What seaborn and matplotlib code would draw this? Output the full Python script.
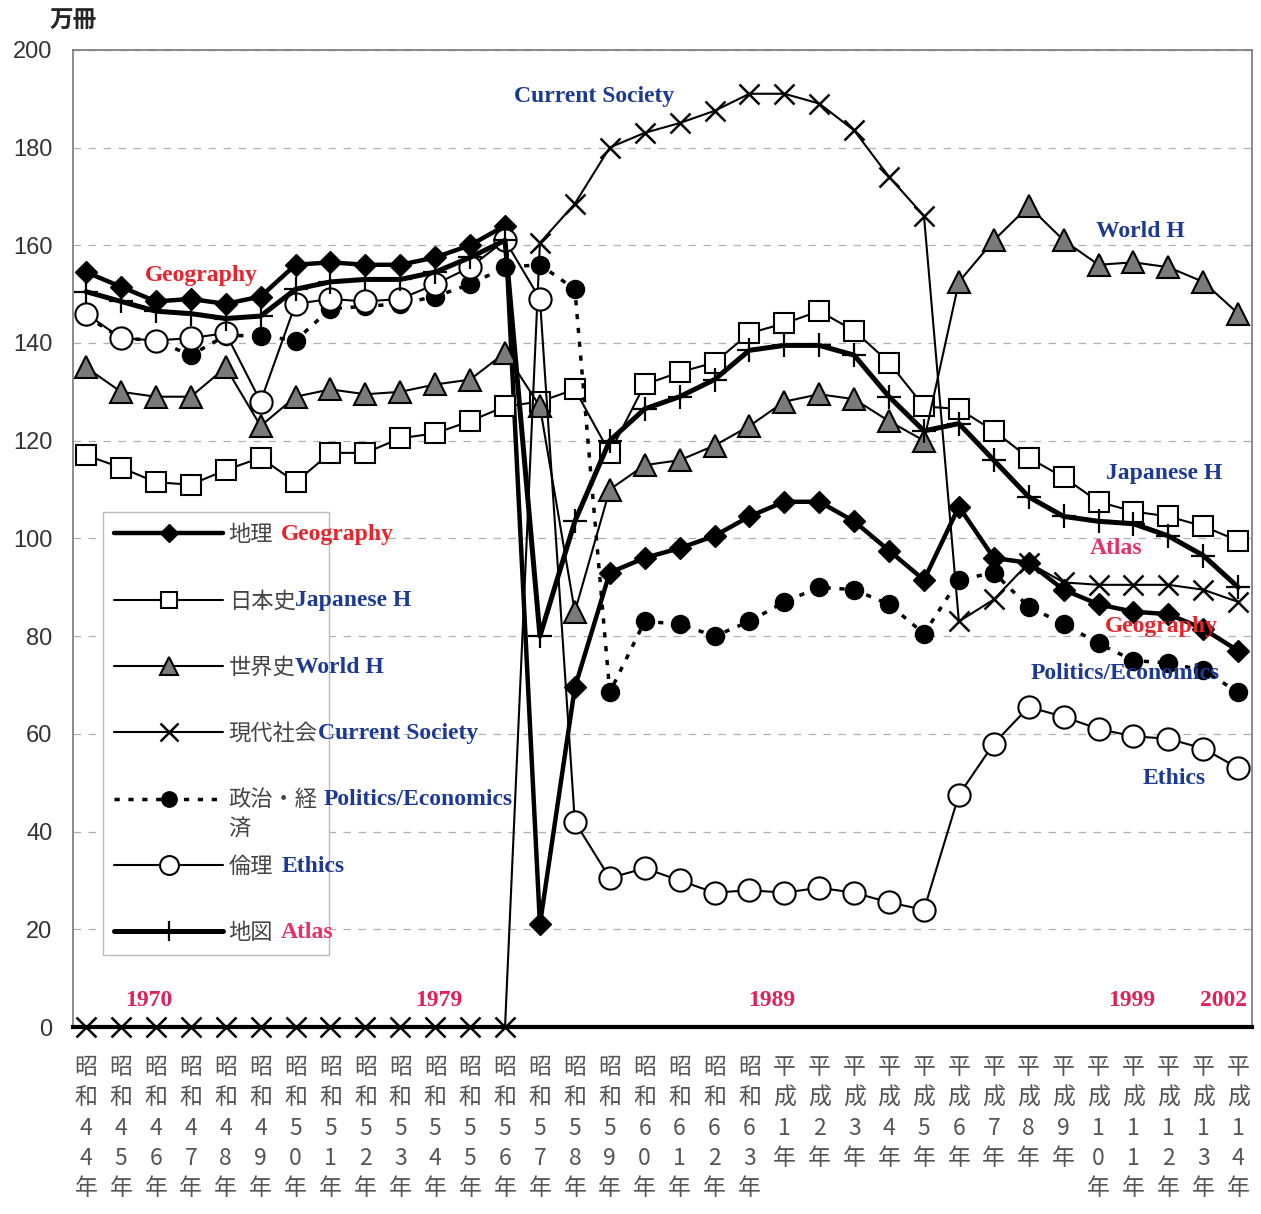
import numpy as np
import seaborn as sns
import matplotlib
matplotlib.use('Agg')
from matplotlib import pyplot as plt
from matplotlib.lines import Line2D
from matplotlib.font_manager import FontProperties

# categories: Showa 44 .. Heisei 14
eras = ['昭和'] * 20 + ['平成'] * 14
years = [44, 45, 46, 47, 48, 49, 50, 51, 52, 53, 54, 55, 56, 57, 58, 59, 60, 61, 62, 63,
         1, 2, 3, 4, 5, 6, 7, 8, 9, 10, 11, 12, 13, 14]

geography = [154.5, 151.5, 148.5, 149, 148, 149.5, 156, 156.5, 156, 156, 157.5, 160, 164,
             21, 69.5, 93, 96, 98, 100.5, 104.5, 107.5, 107.5, 103.5, 97.5, 91.5,
             106.5, 96, 95, 89.5, 86.5, 85, 84.5, 81.5, 77]
japanese = [117, 114.5, 111.5, 111, 114, 116.5, 111.5, 117.5, 117.5, 120.5, 121.5, 124, 127,
            128, 130.5, 117.5, 131.5, 134, 136, 142, 144, 146.5, 142.5, 136, 127,
            126.5, 122, 116.5, 112.5, 107.5, 105.5, 104.5, 102.5, 99.5]
world = [135, 130, 129, 129, 135, 123, 129, 130.5, 129.5, 130, 131.5, 132.5, 138,
         127, 85, 110, 115, 116, 119, 123, 128, 129.5, 128.5, 124, 120,
         152.5, 161, 168, 161, 156, 156.5, 155.5, 152.5, 146]
current = [0, 0, 0, 0, 0, 0, 0, 0, 0, 0, 0, 0, 0,
           160.5, 168.5, 180, 183, 185, 187.5, 191, 191, 189, 183.5, 174, 166,
           83, 87.5, 95, 91, 90.5, 90.5, 90.5, 89.5, 87]
politics = [145.5, 141, 140.5, 137.5, 141.5, 141.5, 140.5, 147, 147.5, 148, 149.5, 152, 155.5,
            156, 151, 68.5, 83, 82.5, 80, 83, 87, 90, 89.5, 86.5, 80.5,
            91.5, 93, 86, 82.5, 78.5, 75, 74.5, 73, 68.5]
ethics = [146, 141, 140.5, 141, 142, 128, 148, 149, 148.5, 149, 152, 155.5, 161,
          149, 42, 30.5, 32.5, 30, 27.5, 28, 27.5, 28.5, 27.5, 25.5, 24,
          47.5, 58, 65.5, 63.5, 61, 59.5, 59, 57, 53]
atlas = [150.5, 148.5, 146.5, 146, 145, 145.5, 151, 152.5, 153, 153, 154.5, 157.5, 161,
         80, 103.5, 120, 126.5, 129, 132.5, 138.5, 139.5, 139.5, 137.5, 129, 122,
         123.5, 116, 108.5, 104.5, 103.5, 103, 100.5, 96.5, 90]

jp_names = ['地理', '日本史', '世界史', '現代社会', '政治・経', '倫理', '地図']
en_names = ['Geography', 'Japanese H', 'World H', 'Current Society',
            'Politics/Economics', 'Ethics', 'Atlas']

BLUE = '#1d3a92'
RED = '#e8232b'
PINK = '#e6306a'
en_colors = [RED, BLUE, BLUE, BLUE, BLUE, BLUE, PINK]
en_gap = [8, 0, 0, 0, 6, 8, 8]

styles = [
    dict(lw=3.2, marker='D', ms=11, mfc='black', mec='black', mew=1, ls='-'),
    dict(lw=1.5, marker='s', ms=14, mfc='white', mec='black', mew=1.5, ls='-'),
    dict(lw=1.5, marker='^', ms=16, mfc='#7a7a7a', mec='black', mew=1.5, ls='-'),
    dict(lw=1.5, marker='x', ms=15, mfc='black', mec='black', mew=1.8, ls='-'),
    dict(lw=2.5, marker='o', ms=13, mfc='black', mec='black', mew=1, ls=(0, (1.5, 2.5))),
    dict(lw=1.5, marker='o', ms=16, mfc='white', mec='black', mew=1.5, ls='-'),
    dict(lw=3.6, marker='+', ms=17, mfc='black', mec='black', mew=1.6, ls='-'),
]
series = [geography, japanese, world, current, politics, ethics, atlas]

sns.set_style('white')
plt.rcParams['font.family'] = ['Noto Sans CJK JP', 'DejaVu Sans']

fig, ax = plt.subplots(figsize=(12.61, 12.14), dpi=100)
fig.subplots_adjust(left=0.058, right=0.993, top=0.959, bottom=0.154)

x = np.arange(len(years))
for vals, st in zip(series, styles):
    sns.lineplot(x=x, y=vals, ax=ax, color='black', linewidth=st['lw'],
                 linestyle=st['ls'], marker=st['marker'], markersize=st['ms'],
                 markerfacecolor=st['mfc'], markeredgecolor=st['mec'],
                 markeredgewidth=st['mew'], clip_on=False)

ax.set_xlim(-0.37, 33.4)
ax.set_ylim(0, 200)
ax.set_yticks(range(0, 201, 20))
ax.yaxis.grid(True, linestyle=(0, (6, 6)), color='#b0b0b0', lw=0.9)
ax.xaxis.grid(False)
ax.set_xlabel('')
ax.set_ylabel('')

labels = ['\n'.join(list(e) + list(str(y)) + ['年']) for e, y in zip(eras, years)]
ax.set_xticks(x)
ax.set_xticklabels(labels, fontsize=16.5, color='#555555', linespacing=1.4, va='top')
ax.tick_params(axis='x', direction='in', length=7, width=1.2, color='black', pad=21)
ax.tick_params(axis='y', length=0, pad=15, labelsize=17, labelcolor='#333333')
for t in ax.get_yticklabels():
    t.set_fontfamily('Liberation Sans')

for side in ['left', 'top', 'right']:
    ax.spines[side].set_color('#777777')
    ax.spines[side].set_linewidth(1.2)
ax.spines['bottom'].set_color('black')
ax.spines['bottom'].set_linewidth(3)

ax.annotate('万冊', xy=(0, 1), xycoords='axes fraction', xytext=(0, 21),
            textcoords='offset points', ha='center', va='center',
            fontsize=17, fontweight='bold', fontstyle='italic')

serif = dict(fontfamily='Liberation Serif', fontweight='bold', fontsize=17,
             ha='center', va='center')
ax.text(14.56, 190.4, 'Current Society', color=BLUE, **serif)
ax.text(3.3, 153.9, 'Geography', color=RED, **serif)
ax.text(30.2, 162.9, 'World H', color=BLUE, **serif)
ax.text(30.89, 113.2, 'Japanese H', color=BLUE, **serif)
ax.text(29.51, 97.9, 'Atlas', color=PINK, **serif)
ax.text(30.8, 81.9, 'Geography', color=RED, **serif)
ax.text(29.77, 72.3, 'Politics/Economics', color=BLUE, **serif)
ax.text(31.17, 50.8, 'Ethics', color=BLUE, **serif)

year_marks = ['1970', '1979', '1989', '1999', '2002']
year_pos = [1.8, 10.11, 19.63, 29.94, 32.58]
for s, xp in zip(year_marks, year_pos):
    ax.text(xp, 5.5, s, color='#e0205a', **serif)

handles = [Line2D([], [], color='black', linewidth=st['lw'], linestyle=st['ls'],
                  marker=st['marker'], markersize=st['ms'] * 0.85,
                  markerfacecolor=st['mfc'], markeredgecolor=st['mec'],
                  markeredgewidth=st['mew']) for st in styles]
leg = ax.legend(handles, jp_names, loc='upper left', bbox_to_anchor=(0.0254, 0.527),
                borderaxespad=0, frameon=True, fancybox=False, framealpha=1,
                edgecolor='#bbbbbb', handlelength=4.9, handletextpad=0.25,
                labelspacing=1.95, borderpad=0.5,
                prop=FontProperties(family='Noto Sans CJK JP', size=16))
leg.get_frame().set_linewidth(1)
for t in leg.get_texts():
    t.set_color('#444444')

fig.canvas.draw()
renderer = fig.canvas.get_renderer()
inv = fig.transFigure.inverted()
for t, en, col, gap in zip(leg.get_texts(), en_names, en_colors, en_gap):
    bb = t.get_window_extent(renderer)
    px, py = inv.transform((bb.x1 + gap, (bb.y0 + bb.y1) / 2))
    fig.text(px, py, en, color=col, ha='left', va='center', fontfamily='Liberation Serif',
             fontweight='bold', fontsize=17, zorder=10)
bb = leg.get_texts()[4].get_window_extent(renderer)
px, py = inv.transform((bb.x0, (bb.y0 + bb.y1) / 2 - 28))
fig.text(px, py, '済', color='#444444', ha='left', va='center', fontsize=16, zorder=10)

fig.savefig('out.png', dpi=100)
